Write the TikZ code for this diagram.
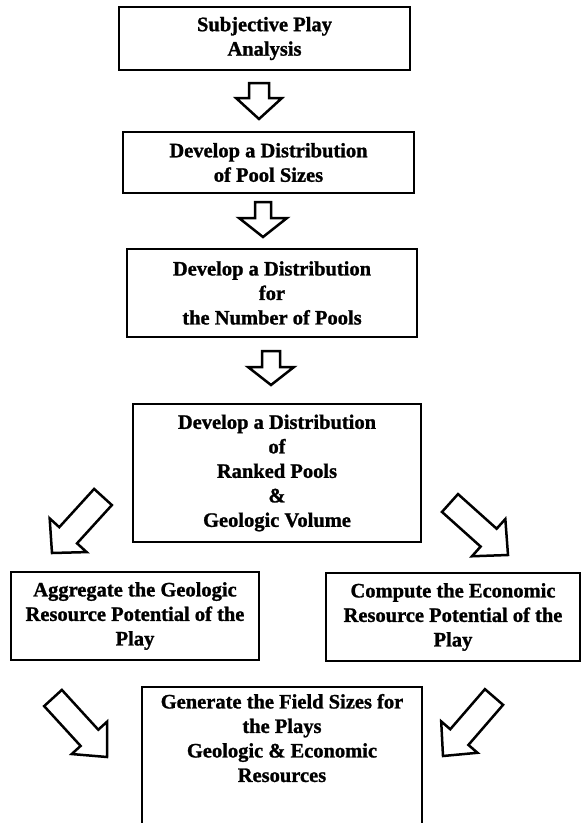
\documentclass[tikz,border=0pt]{standalone}
\usepackage{fontspec}
\setmainfont{Liberation Serif}[BoldFeatures={FakeBold=1.2}]
\usetikzlibrary{calc}
\tikzset{
  box/.style={draw=black, line width=2bp, fill=white, inner sep=0pt, outer sep=0pt, align=center,
    font=\fontsize{20.5bp}{24.5bp}\selectfont\bfseries},
  txt/.style={inner sep=0pt, outer sep=0pt, align=center, font=\fontsize{20.5bp}{24.5bp}\selectfont\bfseries},
  barrow/.style={draw=black, line width=2.5bp, fill=white, line join=miter, miter limit=10}
}
% #1 name, #2 tail, #3 tip, #4 shaft half width, #5 head half width, #6 head length
\newcommand\blockarrow[6]{%
  \coordinate (#1-b) at ($(#3)!#6!(#2)$);
  \draw[barrow] ($(#2)!#4!90:(#3)$) -- ($(#1-b)!#4!90:(#3)$) -- ($(#1-b)!#5!90:(#3)$)
    -- (#3) -- ($(#1-b)!#5!-90:(#3)$) -- ($(#1-b)!#4!-90:(#3)$) -- ($(#2)!#4!-90:(#3)$) -- cycle;
}
\begin{document}
\begin{tikzpicture}[x=1bp,y=-1bp]
\useasboundingbox (0,0) rectangle (581,823);
\clip (0,0) rectangle (581,823);
\fill[white] (0,0) rectangle (581,823);

\node[box, minimum width=291bp, minimum height=63bp] (b1) at (264.5,38.5) {Subjective Play\\Analysis};
\node[box, minimum width=291bp, minimum height=61bp] (b2) at (268.5,162.5) {Develop a Distribution\\of Pool Sizes};
\node[box, minimum width=290bp, minimum height=88bp] (b3) at (272,293) {Develop a Distribution\\for\\the Number of Pools};
\node[box, minimum width=288bp, minimum height=138bp] (b4) at (277,473) {Develop a Distribution\\of\\Ranked Pools\\\&\\Geologic Volume};
\node[box, minimum width=248bp, minimum height=88bp] (agg) at (135,616) {Aggregate the Geologic\\Resource Potential of the\\Play};
\node[box, minimum width=254bp, minimum height=88bp] (comp) at (453,617) {Compute the Economic\\Resource Potential of the\\Play};
\node[box, minimum width=280bp, minimum height=160bp, anchor=north] (gen) at (282,687) {};
\node[txt, anchor=north] (gentxt) at (282,694) {Generate the Field Sizes for\\the Plays\\Geologic \& Economic\\Resources};

% vertical block arrows
\coordinate (a1t) at (259,83);  \coordinate (a1h) at (259,119);
\coordinate (a2t) at (263,202); \coordinate (a2h) at (263,237);
\coordinate (a3t) at (271,351); \coordinate (a3h) at (271,385);
\blockarrow{a1}{a1t}{a1h}{10bp}{23bp}{21bp}
\blockarrow{a2}{a2t}{a2h}{8bp}{24bp}{19bp}
\blockarrow{a3}{a3t}{a3h}{9bp}{23bp}{18bp}

% diagonal block arrows
\coordinate (d1t) at (103,497); \coordinate (d1h) at (52,553);
\coordinate (d2t) at (450,503); \coordinate (d2h) at (508,555);
\coordinate (d3t) at (53,698);  \coordinate (d3h) at (107,757);
\coordinate (d4t) at (494,697); \coordinate (d4h) at (443,756);
\blockarrow{d1}{d1t}{d1h}{12bp}{25bp}{24bp}
\blockarrow{d2}{d2t}{d2h}{12bp}{25bp}{26bp}
\blockarrow{d3}{d3t}{d3h}{12bp}{24bp}{26bp}
\blockarrow{d4}{d4t}{d4h}{12bp}{24bp}{25bp}
\end{tikzpicture}
\end{document}
